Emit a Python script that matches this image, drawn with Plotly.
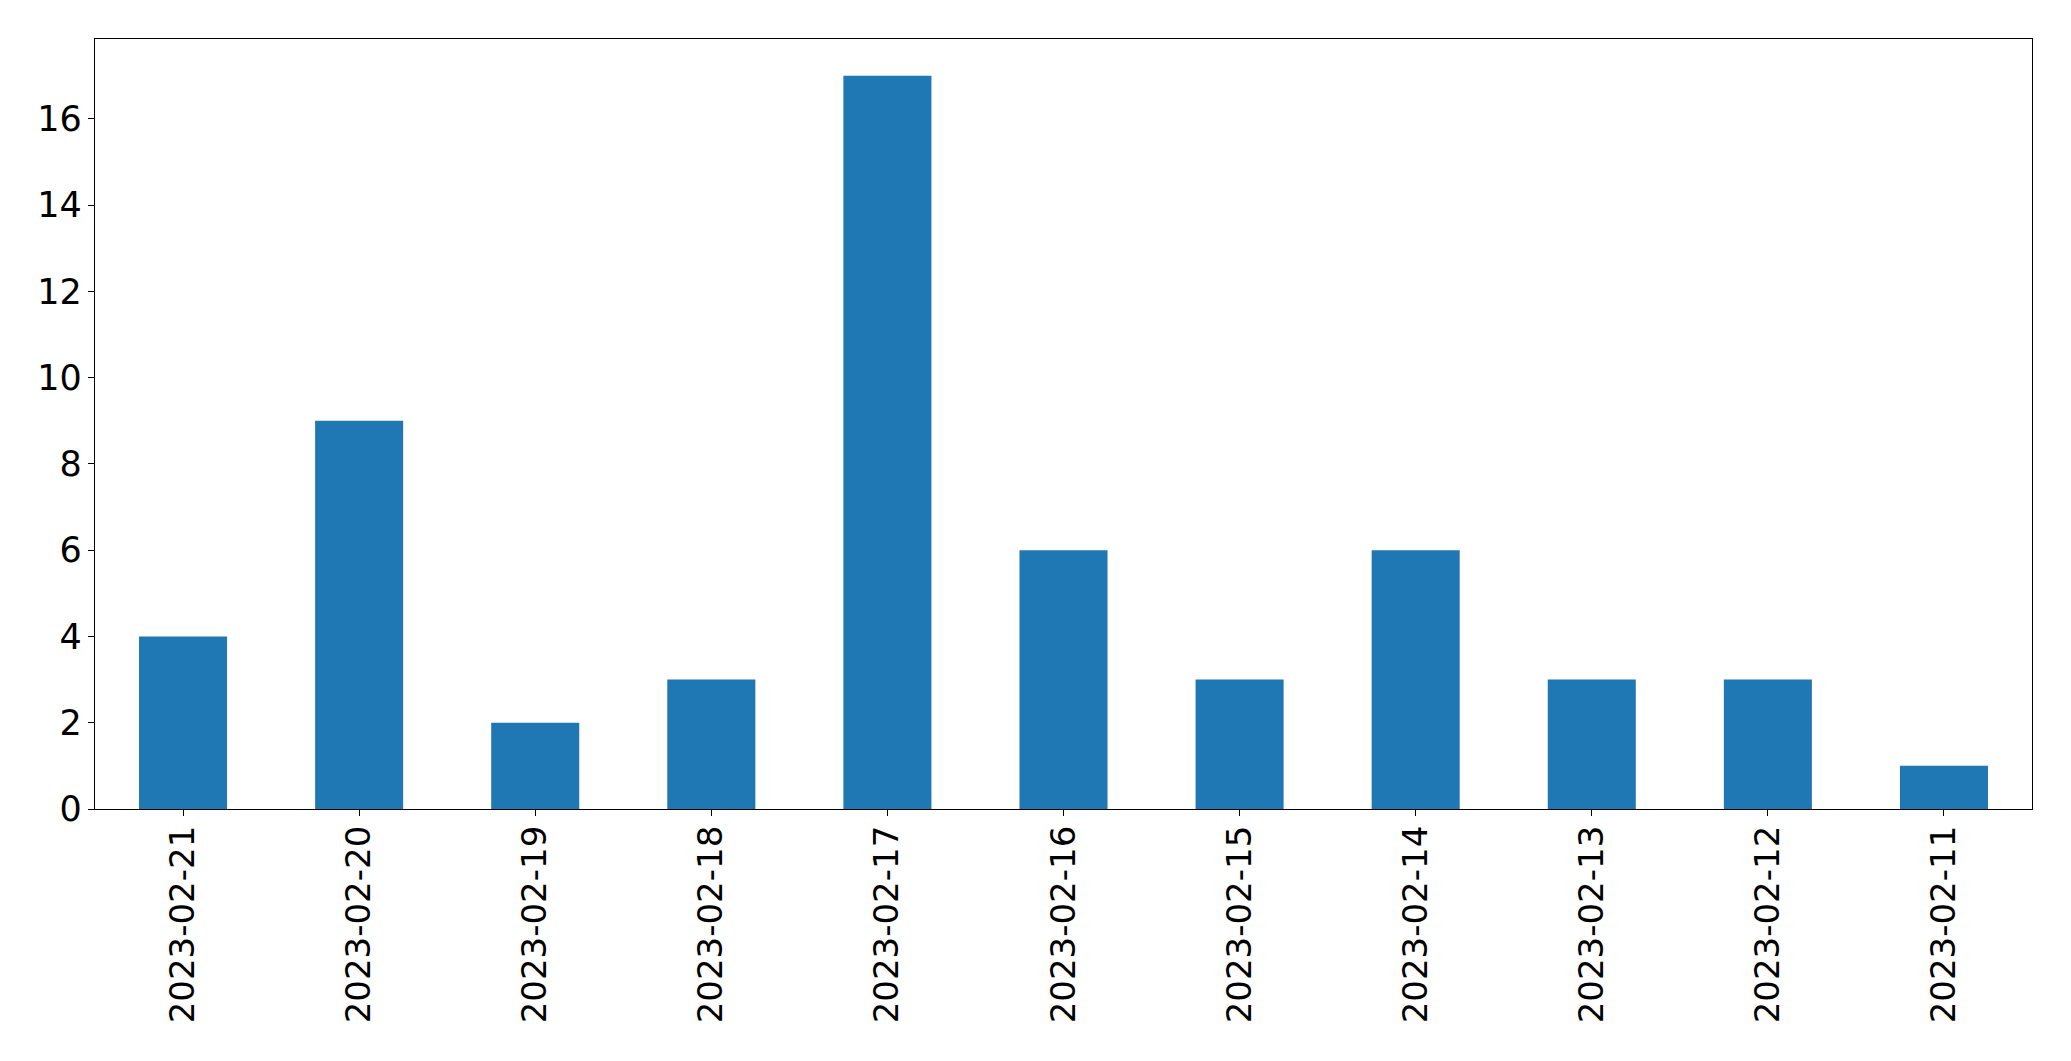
import plotly.graph_objects as go

dates = ["2023-02-21", "2023-02-20", "2023-02-19", "2023-02-18", "2023-02-17",
         "2023-02-16", "2023-02-15", "2023-02-14", "2023-02-13", "2023-02-12", "2023-02-11"]
counts = [4, 9, 2, 3, 17, 6, 3, 6, 3, 3, 1]
y_ticks = [0, 2, 4, 6, 8, 10, 12, 14, 16]

fig = go.Figure(go.Bar(x=dates, y=counts, marker_color="#1f77b4",
                       marker_line_width=0, width=0.5))

fig.update_layout(
    width=2063, height=1053,
    margin=dict(l=87, r=39, t=31, b=252),
    paper_bgcolor="white", plot_bgcolor="white",
    font=dict(family="DejaVu Sans", size=34, color="black"),
    showlegend=False,
)
fig.update_xaxes(type="category", range=[-0.5, 10.5], tickangle=-90,
                 showline=True, mirror=True, linecolor="black", linewidth=1.3,
                 ticks="outside", ticklen=6, tickwidth=1.3, tickcolor="black",
                 showgrid=False, tickfont=dict(size=34), ticklabelstandoff=-4)
fig.update_yaxes(range=[0, 17.85], tickvals=y_ticks,
                 showline=True, mirror=True, linecolor="black", linewidth=1.3,
                 ticks="outside", ticklen=6, tickwidth=1.3, tickcolor="black",
                 showgrid=False, zeroline=False, tickfont=dict(size=35),
                 ticklabelstandoff=-1)

fig.write_html("out.html")
